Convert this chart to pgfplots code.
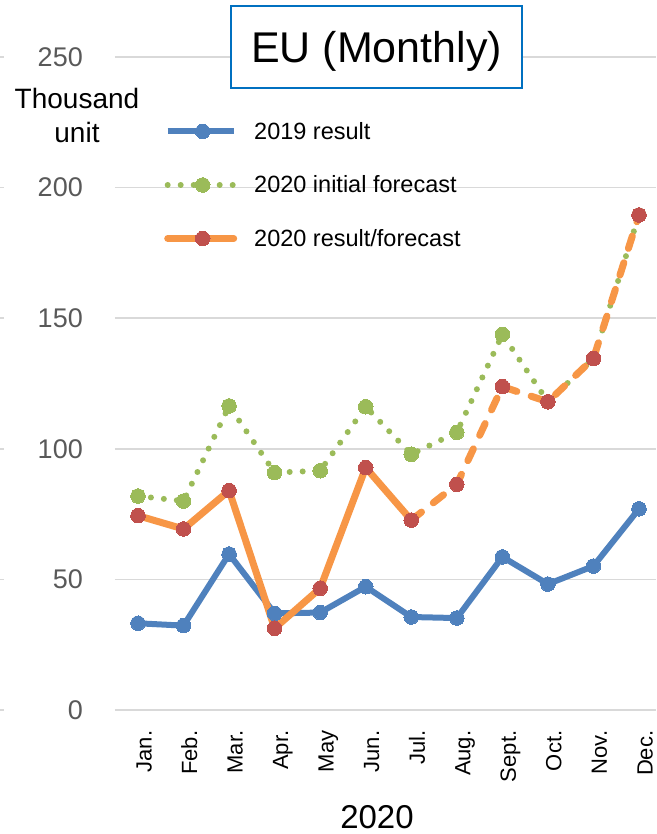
\documentclass[border=0pt]{standalone}
\usepackage{pgfplots}
\pgfplotsset{compat=1.18}
\usepackage{fontspec}
\setmainfont{Liberation Sans}
\definecolor{serblue}{HTML}{4F81BD}
\definecolor{sergreen}{HTML}{9BBB59}
\definecolor{serorange}{HTML}{F79646}
\definecolor{serred}{HTML}{C0504D}
\definecolor{gridgray}{HTML}{D9D9D9}
\definecolor{ticktext}{HTML}{595959}
\definecolor{titleblue}{HTML}{0070C0}

\begin{document}
\begin{tikzpicture}
\begin{axis}[
  scale only axis, width=541pt, height=653pt,
  xmin=-0.505, xmax=11.373, ymin=0, ymax=250,
  axis line style={draw=none},
  major tick length=0pt,
  ytick={0,50,...,250},
  xtick={0,...,11},
  xticklabels={Jan.,Feb.,Mar.,Apr.,May,Jun.,Jul.,Aug.,Sept.,Oct.,Nov.,Dec.},
  ymajorgrids, grid style={gridgray, line width=1.5pt},
  /pgf/number format/assume math mode=true,
  yticklabel style={font=\fontsize{27pt}{32pt}\selectfont, color=ticktext,
    anchor=east, inner sep=0pt, xshift=-32pt},
  xticklabel style={font=\fontsize{22pt}{26pt}\selectfont, rotate=90,
    anchor=base east, inner sep=0pt, xshift=-20.5pt, yshift=-13.5pt},
  legend style={at={(49pt,588pt)}, anchor=north west, draw=none, fill=none,
    inner sep=0pt, row sep=35pt, legend cell align=left,
    font=\fontsize{23.5pt}{28pt}\selectfont,
    nodes={inner sep=0pt},
    /tikz/every odd column/.style={column sep=17pt}},
  legend image code/.code={\draw[mark repeat=2,mark phase=2,#1]
    plot coordinates {(0pt,0pt) (35pt,0pt) (66pt,0pt)};},
]
% 2019 result
\addplot[serblue, line width=6pt, mark=*, mark size=7.3pt,
  mark options={fill=serblue, draw=serblue, line width=0pt}] coordinates {
  (0,33.2) (1,32.3) (2,59.7) (3,37.0) (4,37.3) (5,47.2)
  (6,35.6) (7,35.2) (8,58.6) (9,48.2) (10,55.1) (11,77.0)};
\addlegendentry{2019 result}
% 2020 initial forecast
\addplot[sergreen, line width=6pt, line cap=round, dash pattern=on 0pt off 13pt,
  mark=*, mark size=7.3pt,
  mark options={solid, fill=sergreen, draw=sergreen, line width=0pt}] coordinates {
  (0,81.9) (1,80.0) (2,116.4) (3,90.9) (4,91.6) (5,116.1)
  (6,97.9) (7,106.3) (8,143.8) (9,118.0) (10,134.6) (11,189.5)};
\addlegendentry{2020 initial forecast}
% 2020 result/forecast: result part
\addplot[serorange, line width=7pt, line cap=round, line join=round,
  mark=*, mark size=7.3pt,
  mark options={fill=serred, draw=serred, line width=0pt}] coordinates {
  (0,74.4) (1,69.3) (2,84.0) (3,31.3) (4,46.6) (5,92.8) (6,72.7)};
\addlegendentry{2020 result/forecast}
% forecast part
\addplot[forget plot, serorange, line width=7pt, line cap=round,
  dash pattern=on 13pt off 15pt,
  mark=*, mark size=7.3pt,
  mark options={solid, fill=serred, draw=serred, line width=0pt}] coordinates {
  (6,72.7) (7,86.4) (8,123.8) (9,118.0) (10,134.6) (11,189.5)};
\end{axis}
% title box
\draw[titleblue, line width=2pt, fill=white] (116pt,622pt) rectangle (407pt,704pt);
\node[anchor=base, inner sep=0pt, font=\fontsize{43pt}{50pt}\selectfont] at (261.5pt,647pt) {EU (Monthly)};
% unit label
\node[anchor=base, inner sep=0pt, font=\fontsize{28pt}{34pt}\selectfont] at (-38pt,601pt) {Thousand};
\node[anchor=base, inner sep=0pt, font=\fontsize{28pt}{34pt}\selectfont] at (-38pt,567pt) {unit};
% x label
\node[anchor=base, inner sep=0pt, font=\fontsize{33pt}{40pt}\selectfont] at (262pt,-118pt) {2020};
% fragments of a neighbouring chart's grid at the left edge
\foreach \yy in {0,130.6,261.2,391.8,522.4,653}
  \draw[gridgray, line width=1.5pt] (-115pt,\yy pt) -- (-111pt,\yy pt);
\pgfresetboundingbox
\path[use as bounding box] (-115pt,-124pt) rectangle (541pt,710pt);
\end{tikzpicture}
\end{document}
